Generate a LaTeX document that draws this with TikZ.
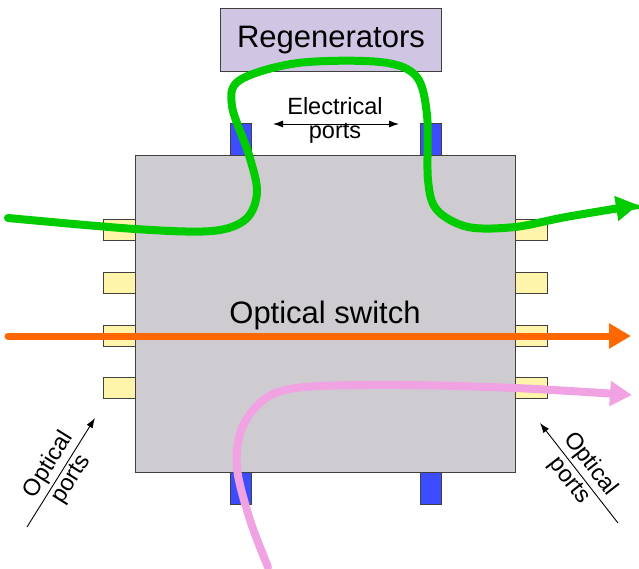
\documentclass[tikz,border=0pt]{standalone}
\usepackage{fontspec}
\setmainfont{Liberation Sans}
\usetikzlibrary{arrows.meta}

\definecolor{switchgray}{RGB}{206,204,209}
\definecolor{regenpurple}{RGB}{208,198,228}
\definecolor{elblue}{RGB}{60,76,255}
\definecolor{optyellow}{RGB}{255,245,170}
\definecolor{pathgreen}{RGB}{0,204,0}
\definecolor{pathorange}{RGB}{255,104,0}
\definecolor{pathpink}{RGB}{240,162,226}

\begin{document}
\begin{tikzpicture}[x=1pt, y=-1pt,
  boxline/.style={draw=black!75, line width=0.9pt, inner sep=0pt, anchor=north west},
  optport/.style={boxline, fill=optyellow, minimum width=32pt, minimum height=21pt},
  elport/.style={boxline, fill=elblue, minimum width=21pt, minimum height=32pt},
  bigtext/.style={font=\fontsize{31}{34}\selectfont},
  smalltext/.style={font=\fontsize{23.5}{24}\selectfont, align=center, inner sep=1.5pt},
  slopetext/.style={smalltext, sloped, inner sep=3pt},
  lightpath/.style={line width=8pt, line cap=round, -{Triangle[length=22pt, width=24pt]}},
  labelarrow/.style={line width=0.9pt, -{Latex[length=10pt, width=7pt]}}]
\useasboundingbox (0,0) rectangle (639,569);

% ports
\foreach \i/\y in {1/219,2/272,3/325,4/377} {
  \node[optport] (lport\i) at (103,\y) {};
  \node[optport] (rport\i) at (515,\y) {};
}
\node[elport] (tportl) at (230,123) {};
\node[elport] (tportr) at (420,123) {};
\node[elport] (bportl) at (230,472) {};
\node[elport] (bportr) at (420,472) {};

% switch and regenerators
\node[boxline, fill=switchgray, minimum width=380pt, minimum height=317pt] (switch) at (135,155) {};
\node[bigtext] (switchlabel) at (325,315) {Optical switch};
\node[boxline, fill=regenpurple, minimum width=221pt, minimum height=63pt] (regen) at (220,8) {};
\node[bigtext] (regenlabel) at (regen.center) {Regenerators};

% electrical ports label
\node[smalltext] (ellabel) at (335,120) {Electrical\\ports};
\coordinate (elleft) at (273,124);
\coordinate (elright) at (399,124);
\draw[line width=0.9pt, {Latex[length=10pt, width=7pt]}-{Latex[length=10pt, width=7pt]}] (elleft) -- (elright);

% optical ports labels
\coordinate (olfoot) at (27,527);
\coordinate (olhead) at (95,418);
\draw[labelarrow] (olfoot) -- node[slopetext, above] {Optical} node[slopetext, below] {ports} (olhead);
\coordinate (orfoot) at (618,523);
\coordinate (orhead) at (540,423);
\draw[labelarrow] (orfoot) -- node[slopetext, above] {Optical} node[slopetext, below] {ports} (orhead);

% light paths
\coordinate (gin) at (8,218);
\coordinate (gout) at (638,205);
\draw[lightpath, pathgreen] plot[smooth, tension=0.55] coordinates {(gin) (135,229) (212,231) (246,219) (257,192) (249,155) (232,106) (240,80) (298,63) (380,62) (416,76) (427,115) (428,180) (437,210) (468,227) (515,227) (566,217) (gout)};

\coordinate (oin) at (8,336);
\coordinate (oout) at (631,336);
\draw[lightpath, pathorange, line width=7pt] (oin) -- (oout);

\coordinate (pin) at (268,567);
\coordinate (pout) at (632,395);
\draw[lightpath, pathpink] plot[smooth, tension=0.55] coordinates {(pin) (250,520) (237,468) (242,428) (266,398) (305,387) (400,385) (515,388) (pout)};
\end{tikzpicture}
\end{document}
